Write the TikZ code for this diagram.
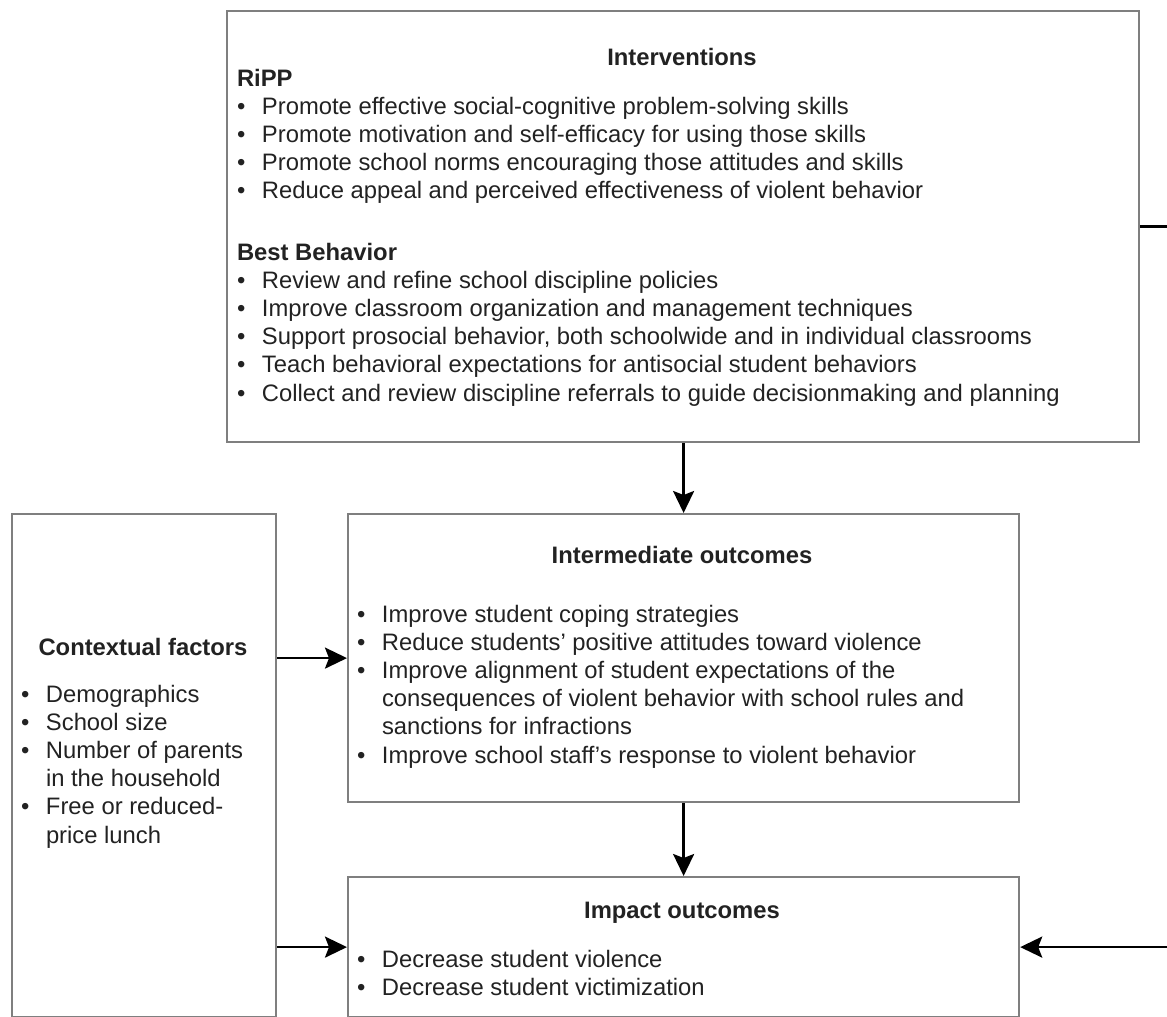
\documentclass[tikz,border=0pt]{standalone}
\usepackage{fontspec}
\setmainfont{Liberation Sans}
\usetikzlibrary{arrows.meta}
\definecolor{boxgray}{HTML}{7F7F7F}
\definecolor{txt}{HTML}{222222}
\newcommand{\bitem}[1]{\hbox{\makebox[25pt][l]{\textbullet}#1}}
\newcommand{\citem}[1]{\hbox{\hspace{25pt}#1}}
\newcommand{\lines}[1]{\vtop{\baselineskip=28.2pt\lineskiplimit=-60pt\lineskip=0pt #1}}
\begin{document}
\begin{tikzpicture}[x=1pt,y=-1pt,
  box/.style={draw=boxgray,line width=2.2pt,inner sep=0pt,anchor=north west},
  conn/.style={draw=black,line width=2.6pt,-{Stealth[length=22pt,width=21pt,inset=4pt]}},
  tb/.style={anchor=base west,inner sep=0pt,outer sep=0pt,text=txt,font=\fontsize{23.8}{28.2}\selectfont},
  title/.style={tb,anchor=base,font=\fontsize{23.8}{28.2}\selectfont\bfseries}]
\useasboundingbox (0,0) rectangle (1167,1017);
% boxes
\node[box,minimum width=912pt,minimum height=431pt] (intv) at (226,10) {};
\node[box,minimum width=671pt,minimum height=288pt] (mid) at (347,513) {};
\node[box,minimum width=671pt,minimum height=140pt] (imp) at (347,876) {};
\node[box,minimum width=264pt,minimum height=503pt] (ctx) at (11,513) {};
% texts
\node[title] (intvT) at (682,65) {Interventions};
\node[tb] (ripp) at (237,86) {\lines{\hbox{\bfseries RiPP}
  \bitem{Promote effective social-cognitive problem-solving skills}
  \bitem{Promote motivation and self-efficacy for using those skills}
  \bitem{Promote school norms encouraging those attitudes and skills}
  \bitem{Reduce appeal and perceived effectiveness of violent behavior}}};
\node[tb] (best) at (237,260) {\lines{\hbox{\bfseries Best Behavior}
  \bitem{Review and refine school discipline policies}
  \bitem{Improve classroom organization and management techniques}
  \bitem{Support prosocial behavior, both schoolwide and in individual classrooms}
  \bitem{Teach behavioral expectations for antisocial student behaviors}
  \bitem{Collect and review discipline referrals to guide decisionmaking and planning}}};
\node[title] (midT) at (682,563) {Intermediate outcomes};
\node[tb] (midL) at (357,622) {\lines{%
  \bitem{Improve student coping strategies}
  \bitem{Reduce students’ positive attitudes toward violence}
  \bitem{Improve alignment of student expectations of the}
  \citem{consequences of violent behavior with school rules and}
  \citem{sanctions for infractions}
  \bitem{Improve school staff’s response to violent behavior}}};
\node[title] (impT) at (682,918) {Impact outcomes};
\node[tb] (impL) at (357,967) {\lines{%
  \bitem{Decrease student violence}
  \bitem{Decrease student victimization}}};
\node[title] (ctxT) at (143,655) {Contextual factors};
\node[tb] (ctxL) at (21,702) {\lines{%
  \bitem{Demographics}
  \bitem{School size}
  \bitem{Number of parents}
  \citem{in the household}
  \bitem{Free or reduced-}
  \citem{price lunch}}};
% connectors
\coordinate (r1) at (1167,225);
\coordinate (r2) at (1167,946);
\draw[conn] (intv.south -| mid.north) -- (mid.north);
\draw[conn] (mid.south) -- (imp.north);
\draw[conn] (ctx.east |- mid.west) -- (mid.west);
\draw[conn] (ctx.east |- imp.west) -- (imp.west);
\draw[draw=black,line width=2.6pt] (intv.east) -- (intv.east -| r1);
\draw[conn] (r2 |- imp.east) -- (imp.east);
\end{tikzpicture}
\end{document}
